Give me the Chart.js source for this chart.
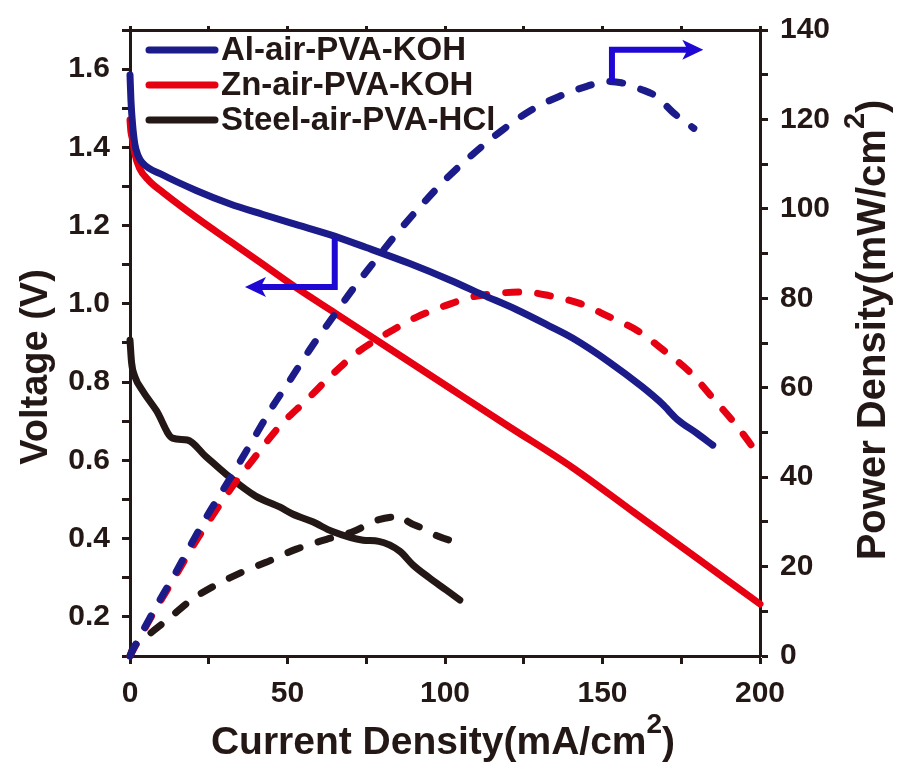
<!DOCTYPE html>
<html>
<head>
<meta charset="utf-8">
<script src="https://cdn.jsdelivr.net/npm/chart.js@4.4.0/dist/chart.umd.min.js"></script>
<style>
  html, body { margin: 0; padding: 0; background: #fff; }
</style>
</head>
<body>
<canvas id="chart" width="899" height="765"></canvas>
<script>
const ink = '#231815';
const fontFamily = "'Liberation Sans', Arial, Helvetica, sans-serif";

// Al-air-PVA-KOH
const alCurrentV = [0, 0.3, 0.8, 1.5, 2.5, 4, 10.3, 21, 31.6, 42, 52.6, 63.4, 75, 88.8, 101.5, 112, 122.8, 133, 140.6, 152, 162.6, 169, 173.7, 180, 185];
const alVoltage = [1.585, 1.52, 1.46, 1.41, 1.38, 1.36, 1.33, 1.29, 1.256, 1.229, 1.203, 1.177, 1.144, 1.103, 1.061, 1.023, 0.985, 0.944, 0.912, 0.852, 0.788, 0.744, 0.705, 0.669, 0.639];
const alCurrentP = [0, 0.8, 4, 9.3, 14.7, 19, 24.2, 29.4, 34.8, 40, 45, 50.6, 58, 64.3, 70.7, 77, 84.6, 93, 100.5, 108.8, 118, 126.9, 136.4, 145, 151.4, 156, 162, 167, 172.5, 179];
const alPower = [0, 1.2, 5.5, 12.3, 18.9, 24.5, 31, 37, 43.3, 49.5, 55.5, 61.5, 69.5, 75.7, 82, 87.7, 94.4, 101.2, 106.8, 112.2, 117.5, 121.9, 125.2, 127.4, 128.5, 128.2, 126.8, 125.2, 121.5, 118];

// Zn-air-PVA-KOH
const znCurrentV = [0, 0.3, 0.8, 1.5, 3, 6, 10.3, 21, 31.6, 41, 53, 65, 80, 101.5, 120, 140.6, 160, 180, 200];
const znVoltage = [1.47, 1.44, 1.42, 1.385, 1.347, 1.315, 1.286, 1.221, 1.161, 1.108, 1.04, 0.977, 0.898, 0.785, 0.688, 0.581, 0.467, 0.35, 0.233];
const znCurrentP = [0, 0.8, 4, 9, 14.7, 19.8, 26.2, 32.6, 40, 47.5, 56, 64.3, 72, 81.5, 91, 101.5, 108, 115, 125, 133, 143, 151.7, 161, 169, 178, 185, 192.6, 200];
const znPower = [0, 1.1, 5.3, 11.5, 18.2, 24.4, 31.4, 38, 44.8, 51.4, 57.2, 63, 67.8, 72.1, 75.8, 78.7, 80.2, 81, 81.4, 80.6, 78.8, 76, 72.8, 68.6, 63.3, 57.7, 51.5, 44.5];

// Steel-air-PVA-HCl
const steelCurrentV = [0, 0.5, 1.5, 4, 8.4, 13.5, 18.2, 24.2, 30.6, 40, 47.5, 51.6, 58, 64.3, 74, 79, 85.6, 89.8, 95, 100.5, 104.7];
const steelVoltage = [0.907, 0.85, 0.815, 0.778, 0.727, 0.657, 0.652, 0.609, 0.564, 0.508, 0.481, 0.463, 0.443, 0.418, 0.396, 0.393, 0.368, 0.333, 0.30, 0.268, 0.243];
const steelCurrentP = [0, 0.8, 5, 11.5, 20, 26.8, 35.7, 43, 52.8, 62.4, 70.7, 79, 86.6, 88, 93, 95.8, 102, 104.5];
const steelPower = [0, 1.5, 4.2, 7.9, 12.8, 15.7, 18.8, 20.9, 23.9, 26.1, 27.8, 30.5, 31.2, 30.2, 28.5, 27.4, 25.8, 25.5];

// axis ticks
const currentTicks = [0, 25, 50, 75, 100, 125, 150, 175, 200];
const currentLabels = [0, 50, 100, 150, 200];
const voltTicks = [0.1, 0.2, 0.3, 0.4, 0.5, 0.6, 0.7, 0.8, 0.9, 1.0, 1.1, 1.2, 1.3, 1.4, 1.5, 1.6, 1.7];
const voltLabels = [0.2, 0.4, 0.6, 0.8, 1.0, 1.2, 1.4, 1.6];
const powerTicks = [0, 10, 20, 30, 40, 50, 60, 70, 80, 90, 100, 110, 120, 130, 140];
const powerLabels = [0, 20, 40, 60, 80, 100, 120, 140];

// the two bent arrows, in data units
const leftArrowX = [65, 65, 36.5];
const leftArrowV = [1.168, 1.043, 1.043];
const rightArrowX = [153, 153, 182];
const rightArrowP = [128.3, 135.6, 135.6];

const blue = '#1b1b8a';
const red = '#e60012';
const black = '#231815';
const arrowBlue = '#1f08d4';

const legendRows = [
  { label: 'Al-air-PVA-KOH', color: blue },
  { label: 'Zn-air-PVA-KOH', color: red },
  { label: 'Steel-air-PVA-HCl', color: black },
];

function series(label, xs, ys, color, axis, dashed) {
  return {
    label,
    data: xs.map((x, i) => ({ x, y: ys[i] })),
    yAxisID: axis,
    borderColor: color,
    borderWidth: 7,
    borderDash: dashed ? [13, 19] : [],
    borderCapStyle: 'round',
    borderJoinStyle: 'round',
    pointRadius: 0,
    fill: false,
    clip: false,
    cubicInterpolationMode: 'monotone',
  };
}

const has = (list, v) => list.some(t => Math.abs(t - v) < 1e-9);

function setTicks(list) {
  return scale => { scale.ticks = list.map(v => ({ value: v })); };
}

const tickFont = { family: fontFamily, size: 30, weight: 'bold' };
const gridOpts = { drawOnChartArea: false, drawTicks: true, tickLength: 8, tickWidth: 3, tickColor: ink };
const borderOpts = { display: true, width: 3, color: ink };

function drawTitle(ctx, main, sup, tail, size, x, y) {
  const big = `bold ${size}px ${fontFamily}`;
  const small = `bold ${Math.round(size * 0.72)}px ${fontFamily}`;
  ctx.font = big;
  const w1 = ctx.measureText(main).width;
  const w3 = ctx.measureText(tail).width;
  ctx.font = small;
  const w2 = ctx.measureText(sup).width;
  let cx = x - (w1 + w2 + w3) / 2;
  ctx.textAlign = 'left';
  ctx.textBaseline = 'alphabetic';
  ctx.font = big;
  ctx.fillText(main, cx, y);
  cx += w1;
  ctx.font = small;
  ctx.fillText(sup, cx, y - size * 0.53);
  cx += w2;
  ctx.font = big;
  ctx.fillText(tail, cx, y);
}

function drawArrow(ctx, pts, color) {
  const n = pts.length;
  const [px, py] = pts[n - 2];
  const [tx, ty] = pts[n - 1];
  const ang = Math.atan2(ty - py, tx - px);
  const c = Math.cos(ang), s = Math.sin(ang);
  const L = 21, W = 10;
  ctx.strokeStyle = color;
  ctx.fillStyle = color;
  ctx.lineWidth = 6;
  ctx.lineJoin = 'miter';
  ctx.lineCap = 'butt';
  ctx.beginPath();
  ctx.moveTo(pts[0][0], pts[0][1]);
  for (let i = 1; i < n - 1; i++) ctx.lineTo(pts[i][0], pts[i][1]);
  ctx.lineTo(tx - c * L * 0.7, ty - s * L * 0.7);
  ctx.stroke();
  ctx.beginPath();
  ctx.moveTo(tx, ty);
  ctx.lineTo(tx - L * c + W * s, ty - L * s - W * c);
  ctx.lineTo(tx - 0.75 * L * c, ty - 0.75 * L * s);
  ctx.lineTo(tx - L * c - W * s, ty - L * s + W * c);
  ctx.closePath();
  ctx.fill();
}

const overlay = {
  id: 'overlay',
  afterDraw(chart) {
    const { ctx, chartArea: a, scales } = chart;
    ctx.save();

    // legend
    ctx.font = `bold 33px ${fontFamily}`;
    ctx.textBaseline = 'middle';
    ctx.textAlign = 'left';
    legendRows.forEach((r, i) => {
      const y = a.top + 20 + i * 35;
      ctx.strokeStyle = r.color;
      ctx.lineWidth = 7;
      ctx.lineCap = 'round';
      ctx.beginPath();
      ctx.moveTo(a.left + 19, y);
      ctx.lineTo(a.left + 85, y);
      ctx.stroke();
      ctx.fillStyle = ink;
      ctx.fillText(r.label, a.left + 91, y + 1);
    });

    // arrows
    const x = scales.x, yv = scales.y, yp = scales.y2;
    drawArrow(ctx, leftArrowX.map((v, i) => [x.getPixelForValue(v), yv.getPixelForValue(leftArrowV[i])]), arrowBlue);
    drawArrow(ctx, rightArrowX.map((v, i) => [x.getPixelForValue(v), yp.getPixelForValue(rightArrowP[i])]), arrowBlue);

    // axis titles
    ctx.fillStyle = ink;
    drawTitle(ctx, 'Current Density(mA/cm', '2', ')', 39, (a.left + a.right) / 2 - 2, 754);

    ctx.save();
    ctx.translate(47, 367);
    ctx.rotate(-Math.PI / 2);
    drawTitle(ctx, 'Voltage (V)', '', '', 38, 0, 0);
    ctx.restore();

    ctx.save();
    ctx.translate(885, 330);
    ctx.rotate(-Math.PI / 2);
    drawTitle(ctx, 'Power Density(mW/cm', '2', ')', 40, 0, 0);
    ctx.restore();

    ctx.restore();
  }
};

new Chart(document.getElementById('chart').getContext('2d'), {
  type: 'line',
  data: {
    datasets: [
      series('Al-air-PVA-KOH', alCurrentV, alVoltage, blue, 'y', false),
      series('Al-air-PVA-KOH power', alCurrentP, alPower, blue, 'y2', true),
      series('Zn-air-PVA-KOH', znCurrentV, znVoltage, red, 'y', false),
      series('Zn-air-PVA-KOH power', znCurrentP, znPower, red, 'y2', true),
      series('Steel-air-PVA-HCl', steelCurrentV, steelVoltage, black, 'y', false),
      series('Steel-air-PVA-HCl power', steelCurrentP, steelPower, black, 'y2', true),
    ]
  },
  options: {
    responsive: false,
    animation: false,
    layout: { padding: 0 },
    plugins: {
      legend: { display: false },
      tooltip: { enabled: false },
    },
    scales: {
      x: {
        type: 'linear',
        position: 'bottom',
        min: 0,
        max: 200,
        afterBuildTicks: setTicks(currentTicks),
        afterFit: s => { s.height = 109; },
        ticks: {
          autoSkip: false,
          maxRotation: 0,
          padding: 12,
          color: ink,
          font: tickFont,
          callback: v => has(currentLabels, v) ? String(v) : '',
        },
        grid: gridOpts,
        border: borderOpts,
      },
      x2: {
        type: 'linear',
        position: 'top',
        min: 0,
        max: 200,
        afterBuildTicks: setTicks(currentTicks),
        afterFit: s => { s.height = 23; },
        ticks: { display: false },
        grid: { ...gridOpts, tickLength: 4 },
        border: borderOpts,
      },
      y: {
        type: 'linear',
        position: 'left',
        min: 0.1,
        max: 1.7,
        afterBuildTicks: setTicks(voltTicks),
        afterFit: s => { s.width = 130; },
        ticks: {
          autoSkip: false,
          padding: 12,
          color: ink,
          font: tickFont,
          callback: v => has(voltLabels, v) ? v.toFixed(1) : '',
        },
        grid: gridOpts,
        border: borderOpts,
      },
      y2: {
        type: 'linear',
        position: 'right',
        min: 0,
        max: 140,
        afterBuildTicks: setTicks(powerTicks),
        afterFit: s => { s.width = 139; },
        ticks: {
          autoSkip: false,
          padding: 12,
          color: ink,
          font: tickFont,
          callback: v => has(powerLabels, v) ? String(v) : '',
        },
        grid: gridOpts,
        border: borderOpts,
      },
    }
  },
  plugins: [overlay]
});
</script>
</body>
</html>
